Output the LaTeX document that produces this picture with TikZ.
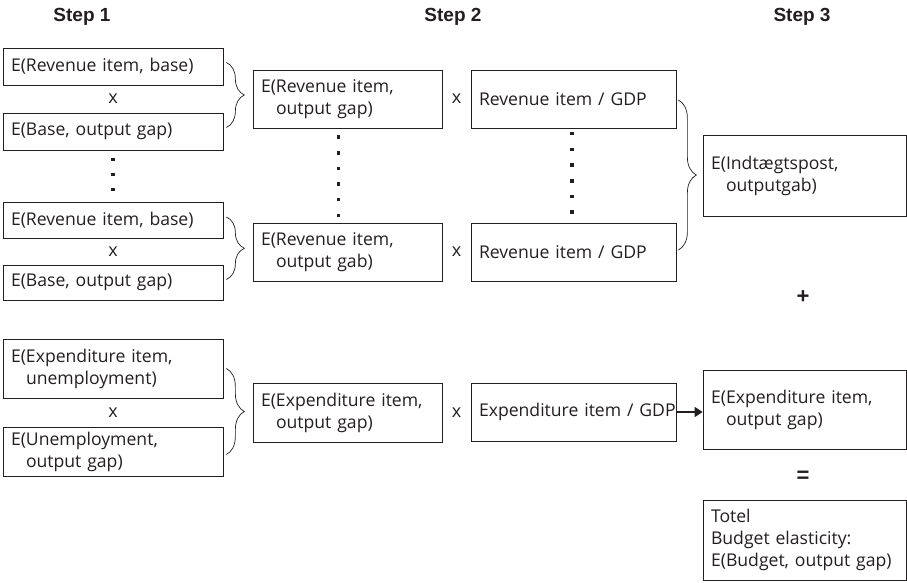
\documentclass[tikz,border=0pt]{standalone}
\usepackage{fontspec}
\setmainfont{Open Sans}
\newfontfamily\headfont{Liberation Sans}
\usetikzlibrary{positioning, arrows.meta, decorations.pathreplacing, calc}
\definecolor{ink}{HTML}{231F20}

\begin{document}
\begin{tikzpicture}[x=1pt, y=-1pt,
  every node/.style={text=ink},
  box/.style={draw=ink, line width=0.7pt, inner xsep=8pt, inner ysep=0pt,
    align=left, font=\fontsize{17.6}{22}\selectfont},
  colone/.style={box, minimum width=220pt, text width=204pt},
  coltwo/.style={box, minimum width=189pt, text width=173pt},
  colthree/.style={box, minimum width=205pt, text width=189pt},
  colfour/.style={box, minimum width=203pt, text width=187pt},
  times/.style={font=\fontsize{18}{22}\selectfont},
  steplabel/.style={font=\headfont\bfseries\fontsize{19}{22}\selectfont},
  sign/.style={font=\headfont\bfseries\fontsize{22}{22}\selectfont},
  curly/.style={draw=ink, line width=0.7pt, decorate,
    decoration={brace, amplitude=18pt}},
  arrowline/.style={draw=ink, line width=1.5pt,
    -{Triangle[length=8pt, width=10pt]}}]
  \useasboundingbox (0,0) rectangle (907,583);

  % headings
  \node[steplabel] (s1) at (82,16.5) {Step 1};
  \node[steplabel] (s2) at (453,16.5) {Step 2};
  \node[steplabel] (s3) at (802,16.5) {Step 3};

  % step 1
  \node[colone, minimum height=37pt] (A1) at (113,66.5) {E(Revenue item, base)};
  \node[colone, minimum height=37pt] (A2) at (113,131.5) {E(Base, output gap)};
  \node[colone, minimum height=36pt] (B1) at (113,220) {E(Revenue item, base)};
  \node[colone, minimum height=35pt] (B2) at (113,282.5) {E(Base, output gap)};
  \node[colone, minimum height=59pt] (X1) at (113,368.5)
    {E(Expenditure item,\\\hspace*{15pt}unemployment)};
  \node[colone, minimum height=49pt] (X2) at (113,451.5)
    {E(Unemployment,\\\hspace*{15pt}output gap)};
  \node[times] (mA) at ($(A1.south)!0.5!(A2.north)$) {x};
  \node[times] (mB) at ($(B1.south)!0.5!(B2.north)$) {x};
  \node[times] (mX) at ($(X1.south)!0.5!(X2.north)$) {x};
  \foreach \k in {0,...,2}
    \fill[ink] ($(A2.south)+(-1.8,7.2+15*\k)$) rectangle +(3.6,3.6);

  % step 2
  \node[coltwo, minimum height=58pt] (C1) at (347.5,99)
    {E(Revenue item,\\\hspace*{15pt}output gap)};
  \node[coltwo, minimum height=58pt] (C2) at (347.5,252)
    {E(Revenue item,\\\hspace*{15pt}output gab)};
  \node[coltwo, minimum height=59pt] (F1) at (347.5,412.5)
    {E(Expenditure item,\\\hspace*{15pt}output gap)};
  \node[colthree, minimum height=58pt] (D1) at (573.5,99) {Revenue item / GDP};
  \node[colthree, minimum height=58pt] (D2) at (573.5,252) {Revenue item / GDP};
  \node[colthree, minimum height=58pt] (F2) at (573.5,412)
    {\mbox{Expenditure item / GDP}};
  \node[times] (mC) at ($(C1.east)!0.5!(D1.west)$) {x};
  \node[times] (mD) at ($(C2.east)!0.5!(D2.west)$) {x};
  \node[times] (mF) at ($(F1.east)!0.5!(F2.west)$) {x};
  \foreach \k in {0,...,5} {
    \fill[ink] ($(C1.south)+(-11,6.9+15.66*\k)$) rectangle +(3.6,3.6);
    \fill[ink] ($(D1.south)+(-3.6,3.5+15.7*\k)$) rectangle +(3.6,3.6);
  }

  % step 3
  \node[colfour, minimum height=81pt] (E1) at (804.5,175.5)
    {E(Indtægtspost,\\\hspace*{15pt}outputgab)};
  \node[colfour, minimum height=79pt] (G) at (804.5,409.5)
    {E(Expenditure item,\\\hspace*{15pt}output gap)};
  \node[colfour, minimum height=80pt] (H) at (804.5,540)
    {Totel\\Budget elasticity:\\E(Budget, output gap)};
  \node[sign] (plus) at (803,297) {+};
  \node[sign] (equals) at (803,477) {=};

  % braces and arrow
  \draw[curly] ($(A1.east)+(3,-4)$) -- ($(A2.east)+(3,-4)$);
  \draw[curly] ($(B1.east)+(3,-3)$) -- ($(B2.east)+(3,-3)$);
  \draw[curly] ($(X1.east)+(3,0)$) -- ($(X2.east)+(3,3)$);
  \draw[curly] ($(D1.east)+(2,1)$) -- ($(D2.east)+(2,-2)$);
  \draw[arrowline] (F2.east) -- (F2.east -| G.west);
\end{tikzpicture}
\end{document}
